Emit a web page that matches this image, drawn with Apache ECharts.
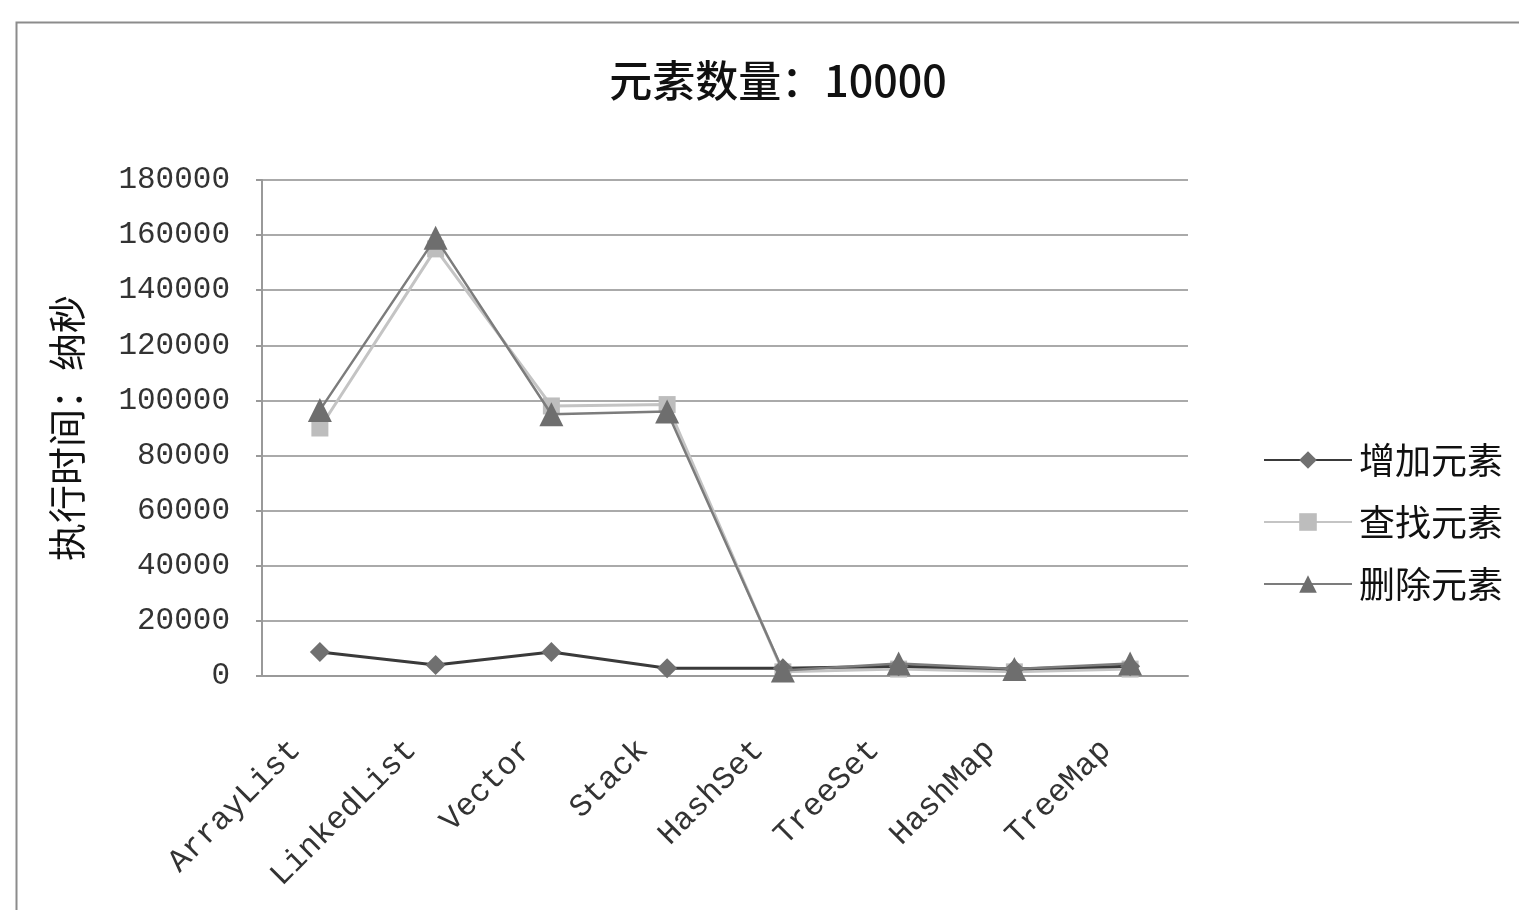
<!DOCTYPE html>
<html><head><meta charset="utf-8">
<script src="https://cdn.jsdelivr.net/npm/echarts@6/dist/echarts.min.js"></script>
<style>html,body{margin:0;padding:0;background:#fff}#c{width:1519px;height:910px}</style>
</head><body><div id="c"></div>
<script>
const categories = ['ArrayList','LinkedList','Vector','Stack','HashSet','TreeSet','HashMap','TreeMap'];
const addValues = [8700, 4000, 8700, 2800, 2800, 3500, 2500, 3500];
const searchValues = [90000, 155000, 98000, 98500, 1500, 2500, 1500, 2500];
const deleteValues = [96500, 159000, 95000, 96000, 2000, 4500, 2500, 4500];
const seriesNames = ['增加元素','查找元素','删除元素'];
const yTicks = [0,20000,40000,60000,80000,100000,120000,140000,160000,180000];

const chart = echarts.init(document.getElementById('c'));
chart.setOption({
  backgroundColor:'#fff',
  animation:false,
  graphic:[{type:'rect',left:14,top:20,shape:{width:1540,height:920},style:{fill:'none',stroke:'#8c8c8c',lineWidth:2},silent:true}],
  title:{text:'元素数量：10000',left:773,top:54,textAlign:'center',
    textStyle:{fontFamily:'Noto Sans CJK SC',fontSize:43,fontWeight:500,color:'#111'}},
  grid:{left:262,right:331,top:180,bottom:234},
  legend:{orient:'vertical',left:1258,top:437,itemWidth:88,itemHeight:22,itemGap:26,
    data:seriesNames,
    textStyle:{fontFamily:'Noto Sans CJK SC',fontSize:36,color:'#111',padding:[0,0,0,2]}},
  xAxis:{type:'category',data:categories,boundaryGap:true,
    axisLine:{lineStyle:{color:'#999',width:2}},axisTick:{show:false},
    axisLabel:{rotate:45,margin:45,interval:0,fontFamily:'Liberation Mono',fontSize:32,color:'#333',padding:[0,34,0,0]}},
  yAxis:{type:'value',min:0,max:180000,interval:20000,
    name:'执行时间：纳秒',nameLocation:'middle',nameGap:176,nameRotate:90,
    nameTextStyle:{fontFamily:'Noto Sans CJK SC',fontSize:38,color:'#111'},
    axisLine:{show:true,lineStyle:{color:'#999',width:2}},
    axisTick:{show:true,length:6,lineStyle:{color:'#999',width:2}},
    splitLine:{lineStyle:{color:'#aaa',width:2}},
    axisLabel:{margin:32,fontFamily:'Liberation Mono',fontSize:31,color:'#333',
      formatter:v=>yTicks.includes(v)?String(v):''}},
  series:[
    {name:seriesNames[0],type:'line',data:addValues,symbol:'diamond',symbolSize:20,z:4,
      lineStyle:{color:'#3a3a3a',width:3},itemStyle:{color:'#707070'}},
    {name:seriesNames[1],type:'line',data:searchValues,symbol:'rect',symbolSize:17,z:3,
      lineStyle:{color:'#c4c4c4',width:3},itemStyle:{color:'#bdbdbd'}},
    {name:seriesNames[2],type:'line',data:deleteValues,symbol:'triangle',symbolSize:24,z:5,
      lineStyle:{color:'#7c7c7c',width:2.5},itemStyle:{color:'#6e6e6e'}}
  ]
});
</script></body></html>
